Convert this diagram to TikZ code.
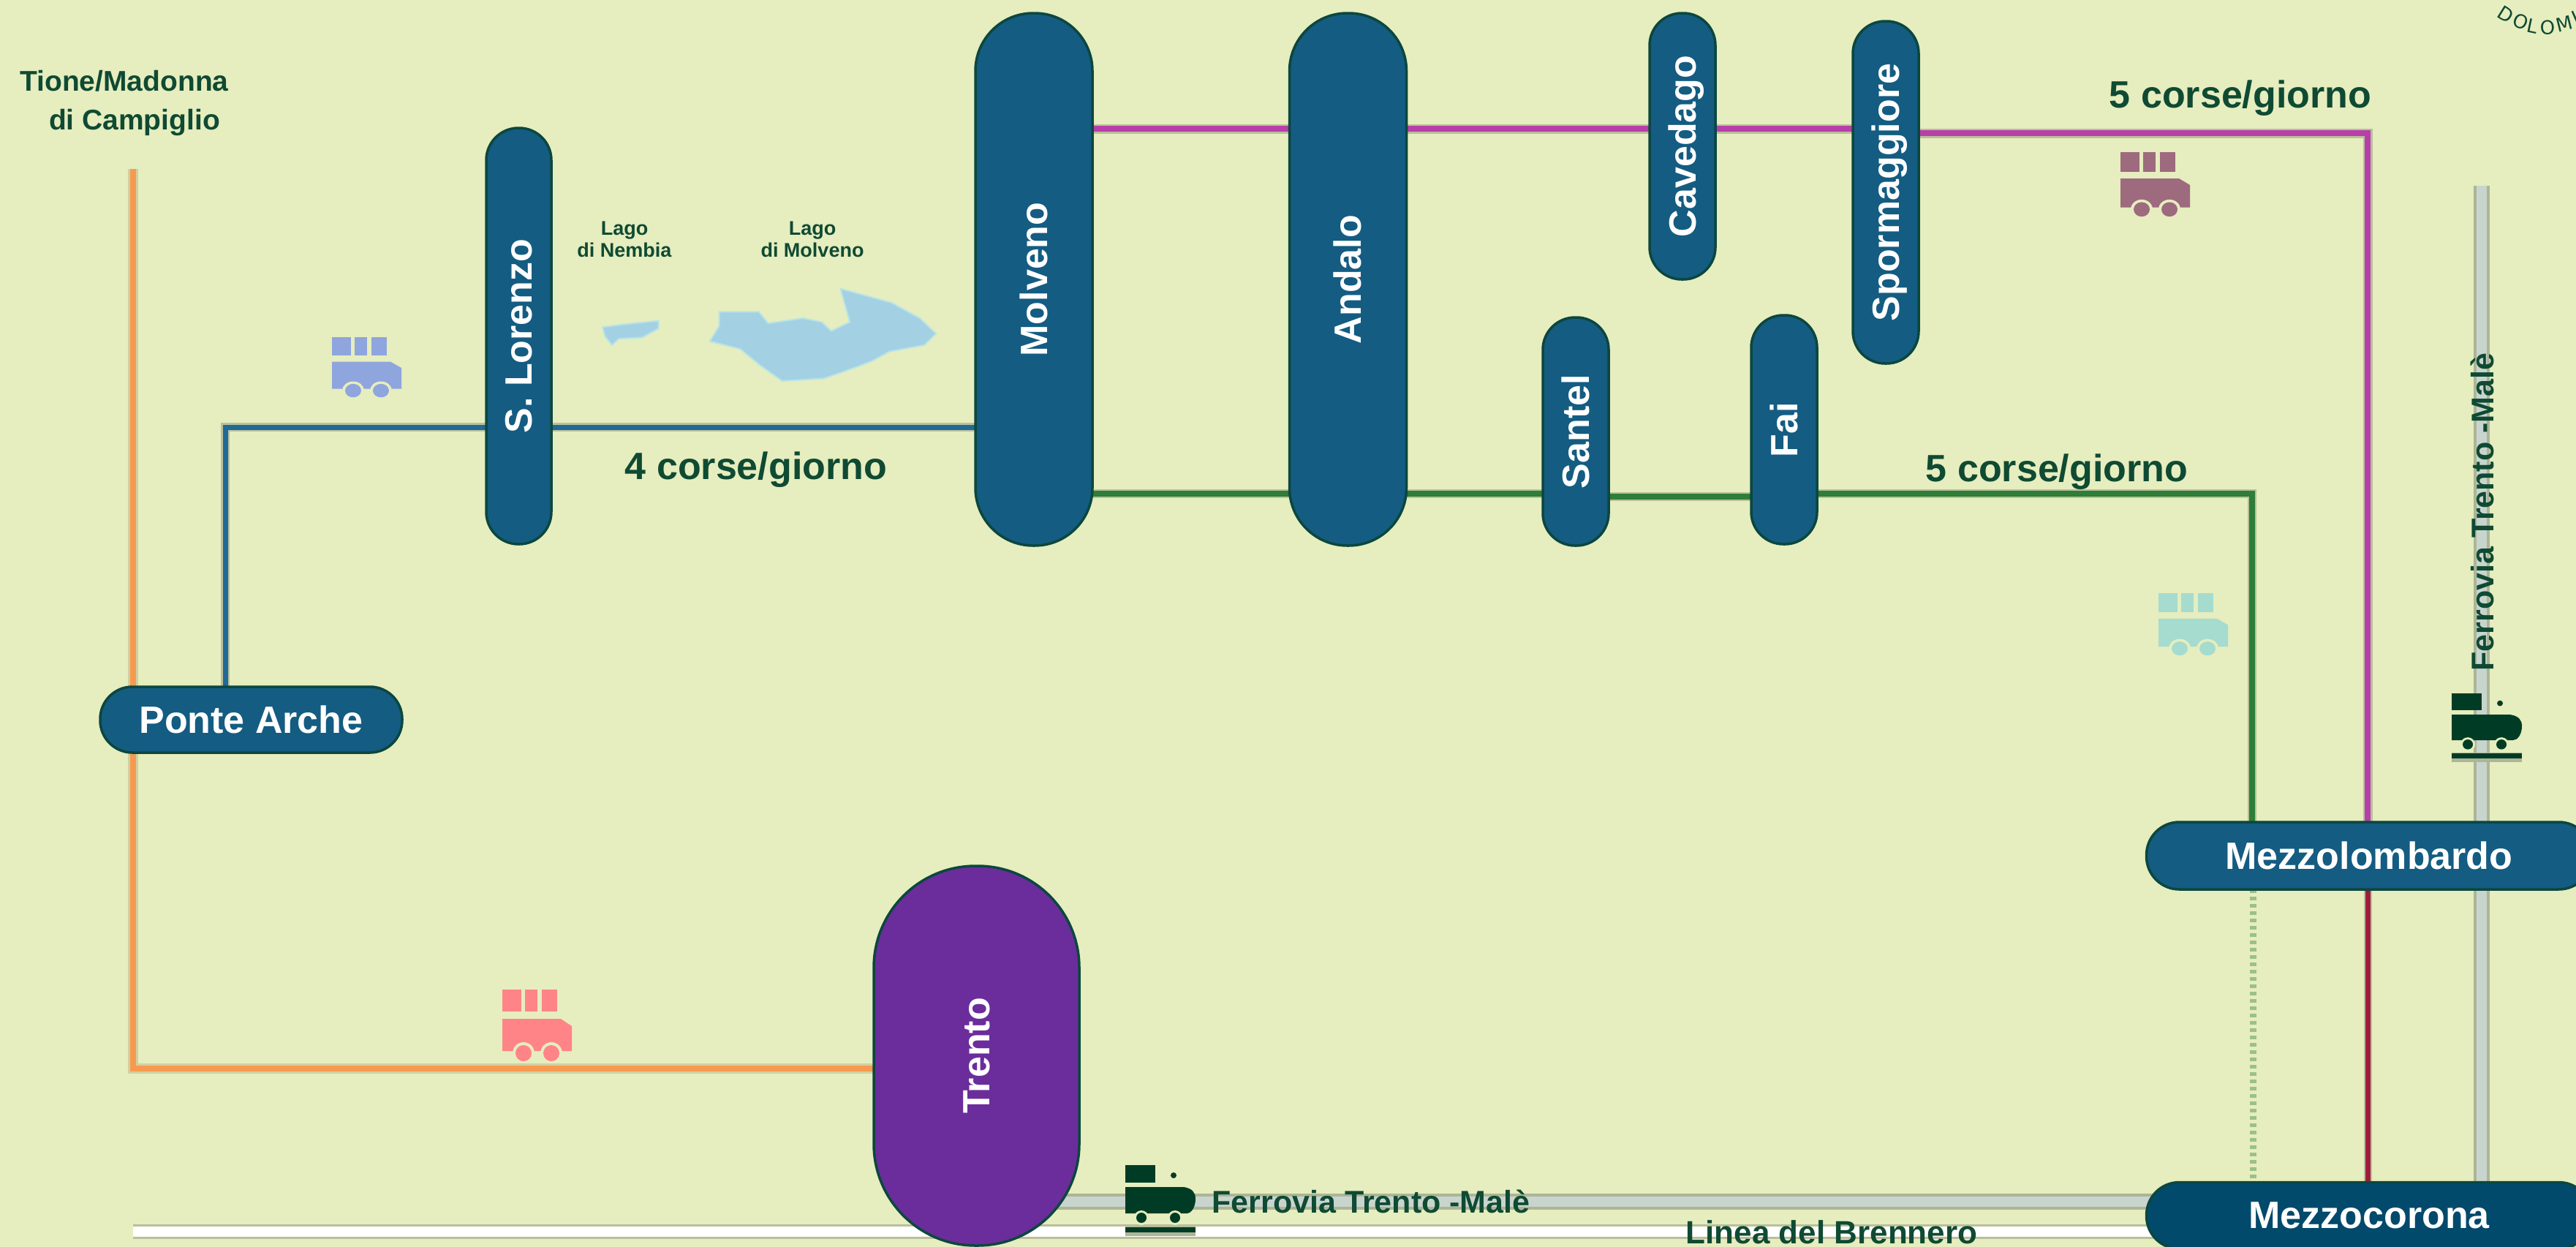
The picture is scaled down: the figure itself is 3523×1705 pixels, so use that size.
\documentclass[tikz,border=0pt]{standalone}
\usepackage{fontspec}
\usepackage{graphicx}
\setmainfont{Liberation Sans}
\newfontfamily\arcfont{DejaVu Sans}
\newcommand{\mapfs}[1]{\fontsize{#1}{#1}\selectfont}
\newcommand{\vtext}[1]{\rotatebox{90}{\raisebox{-18pt}[0pt][0pt]{#1}}}
\pgfdeclarelayer{bg}
\pgfsetlayers{bg,main}
\definecolor{paper}{HTML}{E6EDBE}
\definecolor{stnblue}{HTML}{145C82}
\definecolor{stndark}{HTML}{024A6C}
\definecolor{stnedge}{HTML}{0B473F}
\definecolor{trentofill}{HTML}{6B2D9B}
\definecolor{ink}{HTML}{0F4A33}
\definecolor{trainink}{HTML}{003C25}
\definecolor{lake}{HTML}{A4D0E4}
\definecolor{lakeedge}{HTML}{B8E4E6}
\definecolor{busblue}{HTML}{8FA5DD}
\definecolor{buspink}{HTML}{FF8488}
\definecolor{busmauve}{HTML}{9E6A7E}
\definecolor{busteal}{HTML}{A5DCCF}
\definecolor{orangeline}{HTML}{F79A50}
\definecolor{blueline}{HTML}{1F6A96}
\definecolor{greenline}{HTML}{2E7D38}
\definecolor{magentaline}{HTML}{B83FAA}
\definecolor{crimsonline}{HTML}{A01C3C}
\definecolor{railcore}{HTML}{C8D5CE}
\definecolor{railhalo}{HTML}{ADB596}
\definecolor{halo}{HTML}{B9C09A}
\definecolor{orangehalo}{HTML}{D2D0A0}
\tikzset{
  stn/.style={draw=stnedge,line width=3.5pt,fill=stnblue,text=white,inner sep=0pt,outer sep=0pt,
    font=\bfseries\mapfs{52}},
  lbl/.style={text=ink,inner sep=0pt,font=\bfseries\mapfs{52},align=center},
  smalllbl/.style={text=ink,inner sep=0pt,font=\bfseries\fontsize{27}{30}\selectfont,align=center},
  arcletter/.style={text=ink,inner sep=0pt,font=\arcfont\mapfs{26}},
  haloline/.style={draw=halo,line width=14pt,line join=miter},
  coreline/.style={line width=#1,line join=miter},
  railout/.style={draw=railhalo,line width=22pt},
  railin/.style={draw=railcore,line width=14pt},
}
\newcommand{\busicon}[4]{%
  \begin{scope}[shift={(#1,#2)},yscale=#3]
    \fill[#4] (0,0) rectangle (26,30);
    \fill[#4] (31,0) rectangle (48,30);
    \fill[#4] (54,0) rectangle (75,30);
    \fill[#4] (0,40) -- (80,40) -- (95,50) -- (95,84) -- (0,84) -- cycle;
    \fill[paper] (29,87) circle (15);
    \fill[paper] (67,87) circle (15);
    \fill[#4] (29,87) circle (11);
    \fill[#4] (67,87) circle (11);
  \end{scope}}
\newcommand{\trainicon}[3]{%
  \begin{scope}[shift={(#1,#2)},yscale=#3]
    \fill[trainink] (0,0) rectangle (41,24);
    \fill[trainink] (66,14) circle (4);
    \fill[trainink] (0,30) -- (80,30) .. controls (92,32) and (96,38) .. (96,46)
      .. controls (96,58) and (90,66) .. (84,66) -- (0,66) -- cycle;
    \fill[railhalo] (0,84) rectangle (96,97);
    \fill[paper] (22,72) circle (10);
    \fill[paper] (68,72) circle (10);
    \fill[trainink] (22,72) circle (7);
    \fill[trainink] (68,72) circle (7);
    \fill[trainink] (0,85) rectangle (96,92);
  \end{scope}}
\begin{document}
\begin{tikzpicture}[x=1pt,y=-1pt]
\useasboundingbox (0,0) rectangle (3523,1705);
\clip (0,0) rectangle (3523,1705);

% stations
\node[stn,rounded corners=44pt,minimum width=89pt,minimum height=569pt] (slorenzo) at (709.5,459.5) {\vtext{S. Lorenzo}};
\node[stn,rounded corners=79pt,minimum width=160pt,minimum height=728pt] (molveno) at (1414,382) {\vtext{Molveno}};
\node[stn,rounded corners=79pt,minimum width=160pt,minimum height=728pt] (andalo) at (1843.5,382) {\vtext{Andalo}};
\node[stn,rounded corners=44pt,minimum width=90pt,minimum height=364pt] (cavedago) at (2301,200) {\vtext{Cavedago}};
\node[stn,rounded corners=44pt,minimum width=90pt,minimum height=468pt] (spormaggiore) at (2579,263) {\vtext{Spormaggiore}};
\node[stn,rounded corners=44pt,minimum width=90pt,minimum height=312pt] (santel) at (2155,590) {\vtext{Santel}};
\node[stn,rounded corners=44pt,minimum width=90pt,minimum height=313pt] (fai) at (2440,587.5) {\vtext{Fai}};
\node[stn,rounded corners=44pt,minimum width=413pt,minimum height=90pt] (ponte) at (343.5,984) {Ponte Arche};
\node[stn,fill=trentofill,rounded corners=139pt,minimum width=281pt,minimum height=519pt] (trento) at (1335.5,1443.5) {\vtext{Trento}};
\node[stn,rounded corners=45pt,minimum width=609pt,minimum height=92pt] (mezzol) at (3240,1170) {Mezzolombardo};
\node[stn,fill=stndark,rounded corners=45pt,minimum width=609pt,minimum height=91pt,text depth=0pt] (mezzoc) at (3240,1662) {Mezzocorona};

\coordinate (orangetop) at (182,231);
\coordinate (orangecorner) at (182,1461);
\coordinate (bluecorner) at (308,584);
\coordinate (greencorner) at (3080,675);
\coordinate (magcorner) at (3238,182);
\coordinate (railtop) at (3394,254);
\coordinate (brennerostart) at (182,1684);

\begin{pgfonlayer}{bg}
  \fill[paper] (0,0) rectangle (3523,1705);
  \busicon{687}{1353}{1.0}{buspink}
  \busicon{454}{461}{0.84}{busblue}
  \busicon{2900}{208}{0.9}{busmauve}
  \busicon{2952}{811}{0.87}{busteal}

  % Linea del Brennero
  \draw[draw=halo,line width=20pt] (brennerostart) -- (brennerostart -| mezzoc.center);
  \draw[draw=white,line width=14pt] (brennerostart) -- (brennerostart -| mezzoc.center);
  % Ferrovia Trento-Male
  \draw[railout] (trento.center |- 0,1643) -- (mezzoc.center |- 0,1643);
  \draw[railin] (trento.center |- 0,1643) -- (mezzoc.center |- 0,1643);
  \draw[railout] (railtop) -- (railtop |- mezzoc.center);
  \draw[railin] (railtop) -- (railtop |- mezzoc.center);

  % orange
  \draw[haloline,draw=orangehalo] (orangetop) -- (orangecorner) -- (orangecorner -| trento.center);
  \draw[coreline=8pt,draw=orangeline] (orangetop) -- (orangecorner) -- (orangecorner -| trento.center);
  % blue
  \draw[haloline,line width=12pt] (bluecorner |- ponte.center) -- (bluecorner) -- (bluecorner -| molveno.center);
  \draw[coreline=7pt,draw=blueline] (bluecorner |- ponte.center) -- (bluecorner) -- (bluecorner -| molveno.center);
  % green
  \draw[haloline,line width=12pt] (molveno.center |- greencorner) -- (santel.center |- greencorner);
  \draw[haloline,line width=12pt] (santel.center |- 0,679) -- (fai.center |- 0,679);
  \draw[haloline,line width=12pt] (fai.center |- greencorner) -- (greencorner) -- (greencorner |- mezzol.center);
  \draw[coreline=8pt,draw=greenline] (molveno.center |- greencorner) -- (santel.center |- greencorner);
  \draw[coreline=8pt,draw=greenline] (santel.center |- 0,679) -- (fai.center |- 0,679);
  \draw[coreline=8pt,draw=greenline] (fai.center |- greencorner) -- (greencorner) -- (greencorner |- mezzol.center);
  \draw[line width=9pt,draw=greenline!40!paper,dash pattern=on 5pt off 5pt] ([xshift=1pt]greencorner |- mezzol.south) -- ([xshift=1pt]greencorner |- mezzoc.north);
  % magenta
  \draw[haloline,line width=13pt] (molveno.center |- 0,176) -- (spormaggiore.center |- 0,176);
  \draw[haloline,line width=13pt] (spormaggiore.center |- magcorner) -- (magcorner) -- (magcorner |- mezzol.center);
  \draw[coreline=8pt,draw=magentaline] (molveno.center |- 0,176) -- (spormaggiore.center |- 0,176);
  \draw[coreline=8pt,draw=magentaline] (spormaggiore.center |- magcorner) -- (magcorner) -- (magcorner |- mezzol.center);
  % crimson
  \draw[haloline,line width=11pt] (magcorner |- mezzol.center) -- (magcorner |- mezzoc.center);
  \draw[coreline=7pt,draw=crimsonline] (magcorner |- mezzol.center) -- (magcorner |- mezzoc.center);
\end{pgfonlayer}

% lakes
\begin{scope}[shift={(400,200)},x=0.6378pt,y=-0.3508pt]
  \filldraw[fill=lake,draw=lakeedge,line width=2pt,line join=round]
    (915,645) -- (1000,645) -- (1020,690) -- (1095,670) -- (1135,685) -- (1155,720) -- (1195,685)
    -- (1175,555) -- (1285,610) -- (1345,670) -- (1380,730) -- (1355,775) -- (1280,800)
    -- (1245,835) -- (1210,860) -- (1140,905) -- (1050,915) -- (1000,850) -- (960,790)
    -- (895,760) -- (915,700) -- cycle;
  \filldraw[fill=lake,draw=lakeedge,line width=2pt,line join=round]
    (665,705) -- (705,695) -- (785,680) -- (785,710) -- (750,745) -- (700,750) -- (685,775) -- (670,740) -- cycle;
\end{scope}

\trainicon{1539}{1593}{1.0}
\trainicon{3353}{948}{0.97}

% labels
\node[lbl,font=\bfseries\fontsize{39}{52}\selectfont] (tione) at (170,141) {Tione/Madonna\\\hspace*{28pt}di Campiglio};
\node[smalllbl] (nembia) at (854,327) {Lago\\di Nembia};
\node[smalllbl] (lmolveno) at (1111,327) {Lago\\di Molveno};
\node[lbl] (c4) at (1034,642) {4 corse/giorno};
\node[lbl] (c5a) at (3064,134) {5 corse/giorno};
\node[lbl] (c5b) at (2813,645) {5 corse/giorno};
\node[lbl,font=\bfseries\mapfs{43}] (ftm) at (1875,1643) {Ferrovia Trento -Malè};
\node[lbl,font=\bfseries\mapfs{43}] (ftmv) at (3395,700) {\rotatebox{90}{Ferrovia Trento -Malè}};
\node[lbl,font=\bfseries\mapfs{44}] (brennero) at (2505,1685) {Linea del Brennero};

\node[arcletter,rotate=-32] (a1) at (3427,20) {D};
\node[arcletter,rotate=-22] (a2) at (3447,30) {O};
\node[arcletter,rotate=-12] (a3) at (3464,36) {L};
\node[arcletter,rotate=2] (a4) at (3484,38) {O};
\node[arcletter,rotate=14] (a5) at (3507,33) {M};
\node[arcletter,rotate=24] (a6) at (3522,24) {I};
\end{tikzpicture}
\end{document}
